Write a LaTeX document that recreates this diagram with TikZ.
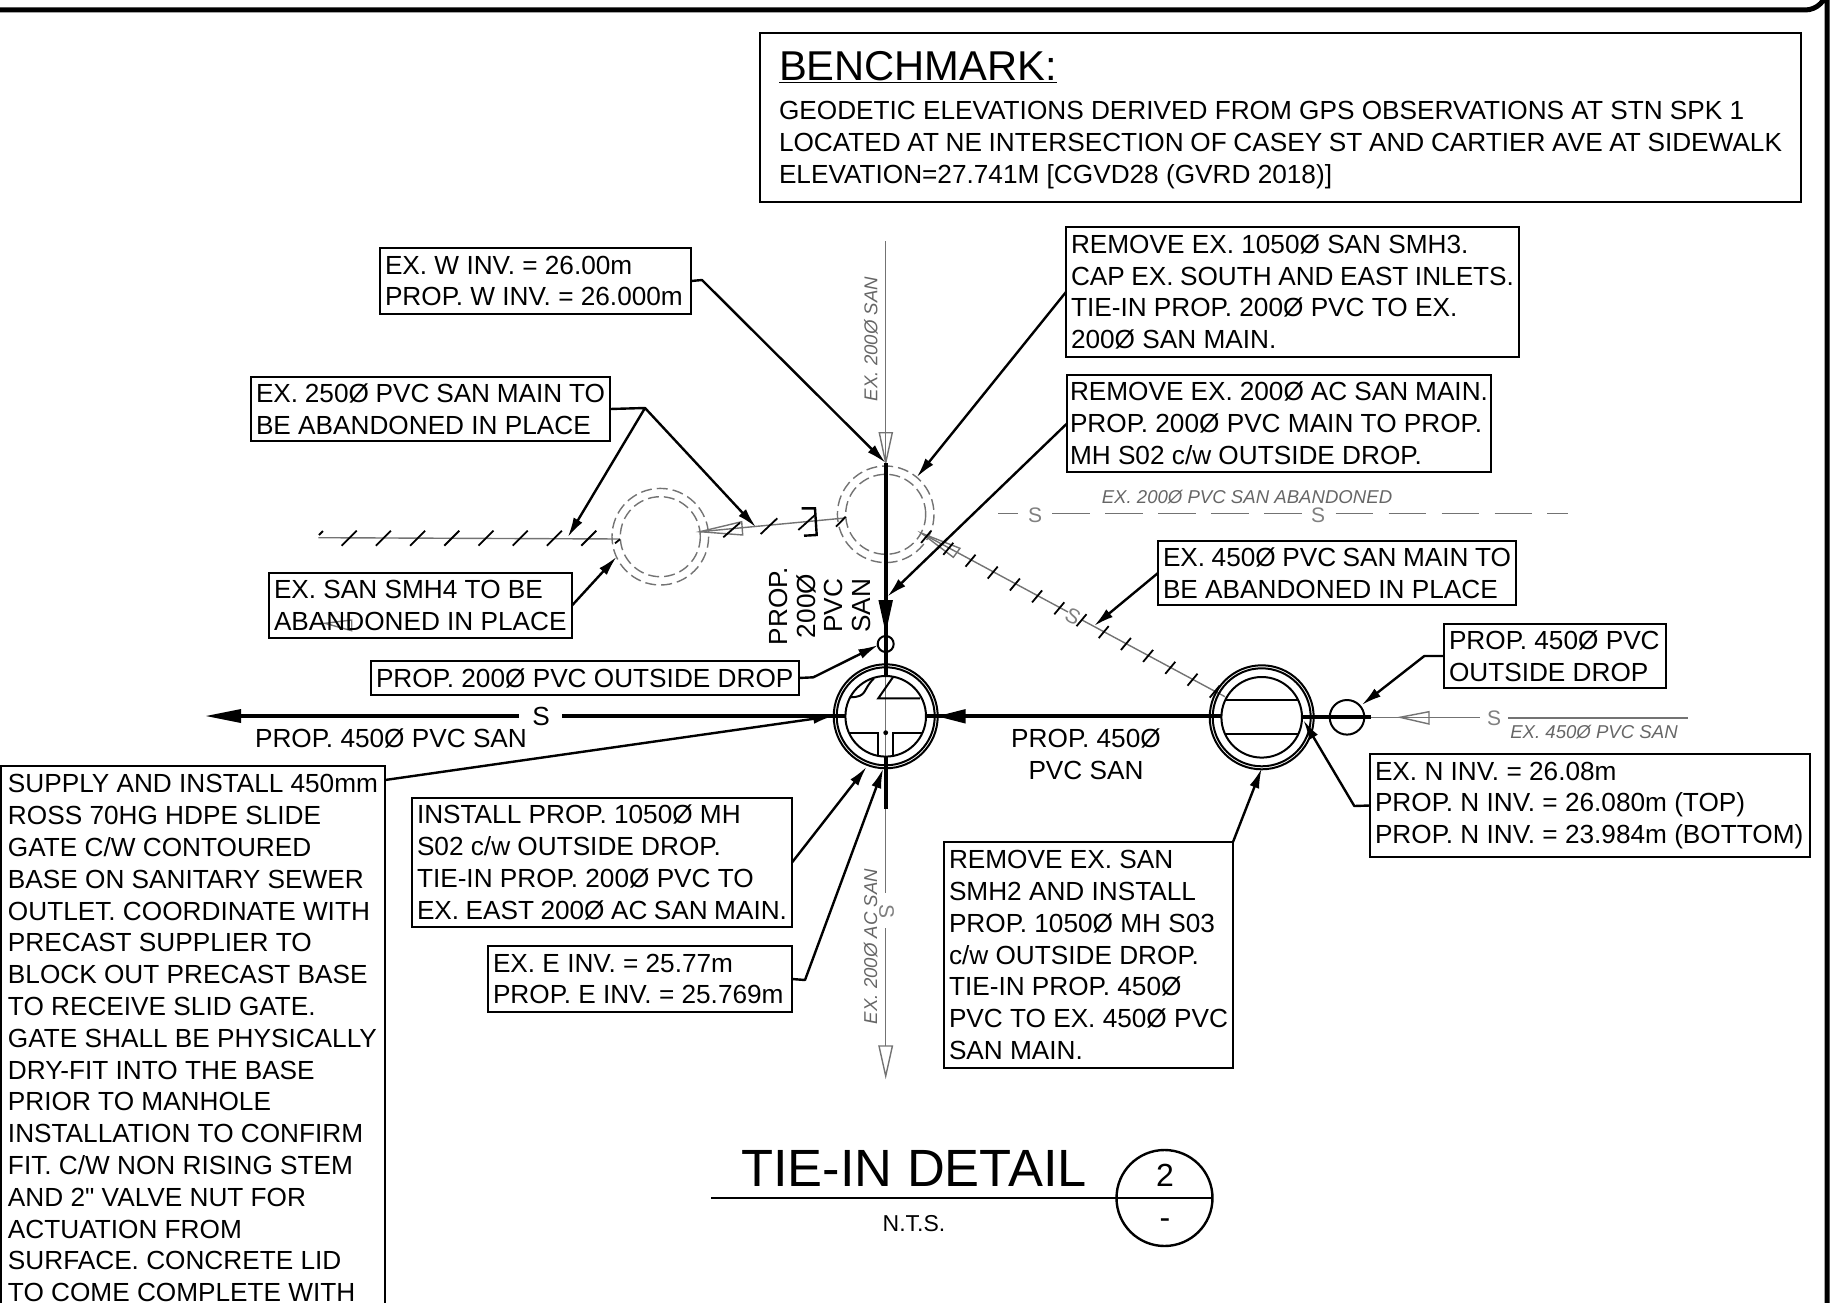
\documentclass[tikz,border=0pt]{standalone}
\usepackage{fontspec}
\setmainfont{Liberation Sans}[Ligatures=TeXOff]
\usetikzlibrary{arrows.meta}
\newcommand{\dwgfont}{\fontsize{26.2}{31.8}\selectfont}
\tikzset{
  notebox/.style={draw,line width=2.4pt,anchor=north west,align=flush left,inner sep=5pt,outer sep=0pt,font=\dwgfont},
  plain/.style={align=center,inner sep=0pt,font=\fontsize{26.2}{31.8}\selectfont},
  ghost/.style={color=black!55,line width=1.4pt},
  ghostdash/.style={ghost,dash pattern=on 11pt off 5pt},
  ghosttext/.style={color=black!60,inner sep=0pt,font=\itshape\fontsize{18.6}{22}\selectfont},
  ghosts/.style={color=black!50,inner sep=0pt,font=\fontsize{21}{24}\selectfont},
  ring/.style={line width=2pt},
  pipe/.style={line width=4pt},
  leader/.style={line width=2.4pt,line join=round,-{Latex[length=20pt,width=10pt]}},
  hatch/.style={line width=1.8pt},
}

\begin{document}
\begin{tikzpicture}[x=1pt,y=-1pt]
\useasboundingbox (0,0) rectangle (1845,1303);
\clip (0,0) rectangle (1845,1303);

% sheet border
\draw[line width=5pt] (0,10) -- (1805,10) arc (90:0:22) -- (1827,1310);

% existing pipes and manholes (grey)
\draw[ghost] (885.7,241) -- (885.7,893) (885.7,928) -- (885.7,1046);
\draw[ghost] (879.3,432.7) -- (892.3,432.7) -- (885.7,463) -- cycle;
\draw[ghost] (879,1046) -- (892.4,1046) -- (885.7,1076) -- cycle;
\draw[ghostdash] (885.7,514.3) circle (48.3);
\draw[ghostdash] (885.7,514.3) circle (40);
\draw[ghostdash] (660.3,536.7) circle (48.3);
\draw[ghostdash] (660.3,536.7) circle (40);

\draw[ghost] (318.3,537.7) -- (620,539);
\draw[ghost] (700,531.7) -- (845,518);
\draw[ghost] (700,531.7) -- (741.7,521.7) -- (742.7,535) -- cycle;
\draw[ghost] (325,623.3) -- (351.7,620) -- (351.7,630.7) -- cycle;
\draw[ghost] (921.7,533.3) -- (1068,612) (1082,620) -- (1225,696.7);
\draw[ghost] (921.7,533.3) -- (960,548.3) -- (953.3,557.3) -- cycle;

\draw[ghost] (998,513.7) -- (1017.5,513.7);
\foreach \xa in {1052,1105,1158,1211,1264,1335.7,1388.7,1441.7,1494.7}
  \draw[ghost] (\xa,513.7) -- (\xa+37.5,513.7);
\draw[ghost] (1547,513.7) -- (1568,513.7);
\draw[ghost] (1370.7,717.3) -- (1480,717.3) (1508,718) -- (1688,718);
\draw[ghost] (1400,717.3) -- (1429,711.7) -- (1429,724) -- cycle;

\node[ghosts] (sa) at (1035,515) {S};
\node[ghosts] (sb) at (1318,515) {S};
\node[ghosts] (sc) at (1494,718) {S};
\node[ghosts,rotate=-90] (sd) at (886.7,911) {S};
\node[ghosts,rotate=-28] (se) at (1073,616) {S};
\node[ghosttext] (txtAbandoned) at (1247,497) {EX. 200Ø PVC SAN ABANDONED};
\node[ghosttext] (txtSan) at (1594,732) {EX. 450Ø PVC SAN};
\node[ghosttext,rotate=90] (txtNorth) at (871,339) {EX. 200Ø SAN};
\node[ghosttext,rotate=90] (txtSouth) at (870.7,946.5) {EX. 200Ø AC SAN};

% hatch ticks on abandoned mains
\foreach \xa in {341.7,375.9,410.1,444.3,478.5,512.7,546.9,581.3}
  \draw[hatch] (\xa,545.7) -- (\xa+15,530.7);
\draw[hatch] (319,535) -- (323,531);
\draw[hatch] (615,543.3) -- (620,539.3);
\draw[hatch] (723.3,537.3) -- (740,522.7);
\draw[hatch] (760.7,534) -- (777.3,518.3);
\draw[hatch] (798.3,530) -- (815,515);
\draw[hatch] (836,526.7) -- (845.7,516.7);
\foreach \k in {0,1,...,13}
  \draw[hatch] (926.1+22.2*\k-5,536.9+11.9*\k+6) -- (926.1+22.2*\k+5,536.9+11.9*\k-6);
\draw[line width=2.4pt] (801.7,508.3) -- (815,508.3) -- (816.7,535) -- (804,535.7);

% proposed manholes
\foreach \mh/\xa/\ya in {mhA/885.7/716.3,mhB/1261.7/717.3} {
  \draw[ring] (\xa,\ya) circle (52);
  \draw[ring] (\xa,\ya) circle (49);
  \draw[ring] (\xa,\ya) circle (40.3);
}
\draw[ring] (893.3,676.7) -- (878.3,698.3) -- (920,698.3);
\draw[ring] (850,697.3) .. controls (868,697) and (862,690) .. (874,678.3);
\draw[ring] (850,732.7) -- (878.3,732.7) -- (878.3,755);
\draw[ring] (921.7,732.7) -- (893.3,732.7) -- (893.3,755);
\fill (885.7,732.7) circle (2.4);
\draw[ring] (1225.7,700) -- (1298.3,700);
\draw[ring] (1225.7,734.3) -- (1298.3,734.3);
\draw[ring] (885.7,644) circle (8);
\draw[ring] (1347,717.3) circle (17.3);

% proposed pipes
\draw[pipe] (885.7,463) -- (885.7,677);
\draw[pipe] (885.7,757) -- (885.7,809);
\draw[pipe] (926.7,716.3) -- (1221.7,716.3);
\draw[pipe] (1302.7,717.3) -- (1370.7,717.3);
\draw[pipe] (241,716) -- (519,716) (562,716) -- (845.7,716);
\fill (878.4,600) -- (893,600) -- (885.7,633) -- cycle;
\fill (965.7,709) -- (965.7,723.6) -- (937.3,716.3) -- cycle;
\fill (241,709) -- (241,723) -- (206,716) -- cycle;

% pipe labels
\node[plain] (sMain) at (541,716) {S};
\node[plain] (lblOutfall) at (391,738) {PROP. 450Ø PVC SAN};
\node[plain] (lblEast) at (1086,754) {PROP. 450Ø\\PVC SAN};
\node[plain,rotate=90,font=\fontsize{26.2}{27.6}\selectfont] (lblDrop) at (820,606) {PROP.\\200Ø\\PVC\\SAN};

% benchmark
\node[notebox,inner xsep=19pt,text width=1003pt,minimum height=169pt] (bench) at (760,33) {%
  {\fontsize{41.7}{48}\selectfont\rule{0pt}{34pt}\underline{BENCHMARK:}}\\[6.4pt]
  {\fontsize{26.2}{32.6}\selectfont GEODETIC ELEVATIONS DERIVED FROM GPS OBSERVATIONS AT STN SPK 1\\
  LOCATED AT NE INTERSECTION OF CASEY ST AND CARTIER AVE AT SIDEWALK\\
  ELEVATION=27.741M [CGVD28 (GVRD 2018)]}};

% notes
\node[notebox,text width=301pt,minimum height=66pt] (noteWInv) at (380,248) {EX. W INV. = 26.00m\\PROP. W INV. = 26.000m};
\node[notebox,text width=443pt,minimum height=130pt] (noteSmhThree) at (1066,227) {REMOVE EX. 1050Ø SAN SMH3.\\CAP EX. SOUTH AND EAST INLETS.\\TIE-IN PROP. 200Ø PVC TO EX.\\200Ø SAN MAIN.};
\node[notebox,text width=349pt,minimum height=64pt] (noteAbanWest) at (251,377) {EX. 250Ø PVC SAN MAIN TO\\BE ABANDONED IN PLACE};
\node[notebox,inner xsep=3pt,text width=418pt,minimum height=97pt] (noteMain) at (1067,375) {REMOVE EX. 200Ø AC SAN MAIN.\\PROP. 200Ø PVC MAIN TO PROP.\\MH S02 c/w OUTSIDE DROP.};
\node[notebox,text width=293pt,minimum height=65pt] (noteSmhFour) at (269,573) {EX. SAN SMH4 TO BE\\ABANDONED IN PLACE};
\node[notebox,text width=348pt,minimum height=64pt] (noteAbanEast) at (1158,541) {EX. 450Ø PVC SAN MAIN TO\\BE ABANDONED IN PLACE};
\node[notebox,text width=418pt,minimum height=34pt] (noteDropA) at (371,661) {PROP. 200Ø PVC OUTSIDE DROP};
\node[notebox,text width=212pt,minimum height=64pt] (noteDropB) at (1444,624) {PROP. 450Ø PVC\\OUTSIDE DROP};
\node[notebox,text width=430pt,minimum height=103pt] (noteNInv) at (1370,754) {EX. N INV. = 26.08m\\PROP. N INV. = 26.080m (TOP)\\PROP. N INV. = 23.984m (BOTTOM)};
\node[notebox,inner xsep=7pt,inner ysep=8.5pt,text width=370pt] (noteGate) at (1,766) {SUPPLY AND INSTALL 450mm\\ROSS 70HG HDPE SLIDE\\GATE C/W CONTOURED\\BASE ON SANITARY SEWER\\OUTLET. COORDINATE WITH\\PRECAST SUPPLIER TO\\BLOCK OUT PRECAST BASE\\TO RECEIVE SLID GATE.\\GATE SHALL BE PHYSICALLY\\DRY-FIT INTO THE BASE\\PRIOR TO MANHOLE\\INSTALLATION TO CONFIRM\\FIT. C/W NON RISING STEM\\AND 2" VALVE NUT FOR\\ACTUATION FROM\\SURFACE. CONCRETE LID\\TO COME COMPLETE WITH\\ };
\node[notebox,text width=370pt,minimum height=129pt] (noteInstall) at (412,798) {INSTALL PROP. 1050Ø MH\\S02 c/w OUTSIDE DROP.\\TIE-IN PROP. 200Ø PVC TO\\EX. EAST 200Ø AC SAN MAIN.};
\node[notebox,text width=294pt,minimum height=66pt] (noteEInv) at (488,946) {EX. E INV. = 25.77m\\PROP. E INV. = 25.769m};
\node[notebox,text width=279pt,minimum height=226pt] (noteSmhTwo) at (944,842) {REMOVE EX. SAN\\SMH2 AND INSTALL\\PROP. 1050Ø MH S03\\c/w OUTSIDE DROP.\\TIE-IN PROP. 450Ø\\PVC TO EX. 450Ø PVC\\SAN MAIN.};

% leaders
\coordinate (elbowAban) at (645,408);
\draw[leader] (noteWInv.east) -- (702,280) -- (885.7,463);
\draw[leader] (noteSmhThree.west) -- (916.7,477.3);
\draw[leader] (noteMain.west) -- (887.3,596.7);
\draw[leader] (noteAbanWest.east) -- (elbowAban) -- (567.7,537.3);
\draw[leader] (elbowAban) -- (756,527.3);
\draw[leader] (noteSmhFour.east) -- (616.7,556.7);
\draw[leader] (noteAbanEast.west) -- (1094,626);
\draw[leader] (noteDropA.east) -- (813.3,677.3) -- (878.3,645);
\draw[leader] (noteDropB.west) -- (1424.3,656) -- (1361.7,705);
\draw[leader] (noteNInv.west) -- (1354.3,806) -- (1303.3,720);
\draw[leader] (noteSmhTwo.north east) -- (1261.7,768.3);
\draw[leader] (385,780) -- (833.3,716);
\draw[leader] (noteInstall.east) -- (866.7,766.7);
\draw[leader] (noteEInv.east) -- (805,980) -- (883.3,768.3);

% detail title
\draw[line width=2.8pt] (711,1198) -- (1213,1198);
\node[draw,circle,line width=2.4pt,minimum size=96pt,inner sep=0pt] (bubble) at (1164.5,1198) {};
\node[plain,font=\fontsize{52.4}{60}\selectfont] (title) at (914,1168) {TIE-IN DETAIL};
\node[plain,font=\fontsize{23}{26}\selectfont] (nts) at (914,1224) {N.T.S.};
\node[plain,font=\fontsize{32}{36}\selectfont] (bubTop) at (1165,1175) {2};
\node[plain,font=\fontsize{32}{36}\selectfont] (bubBot) at (1165,1224) {-};
\end{tikzpicture}
\end{document}
